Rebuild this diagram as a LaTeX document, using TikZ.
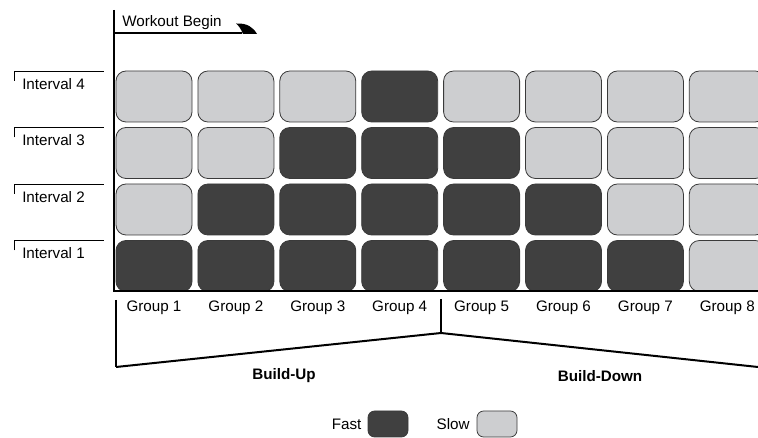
\documentclass[tikz,border=0pt]{standalone}
\usepackage{fontspec}
\setmainfont{Liberation Sans}
\usetikzlibrary{positioning,calc}
\definecolor{fastgray}{HTML}{404040}
\definecolor{slowgray}{HTML}{CDCED0}
\definecolor{edgegray}{HTML}{3A3A3A}

\begin{document}
\begin{tikzpicture}[x=0.75pt,y=-0.75pt,
   every node/.style={font=\fontsize{11.4}{13}\selectfont, inner sep=0pt},
   cell/.style={draw=edgegray, line width=0.6pt, rounded corners=7.5pt,
     minimum width=57pt, minimum height=38.25pt},
   fastcell/.style={cell, fill=fastgray},
   slowcell/.style={cell, fill=slowgray},
   keycell/.style={minimum width=30pt, minimum height=19.5pt, rounded corners=5pt},
   axis/.style={line width=1.8pt},
   slant/.style={line width=1.5pt},
   tick/.style={line width=0.7pt}]
  \clip (0,0) rectangle (758,438);
  % cells: fast when the group is close enough to group 4
  \foreach \i in {1,...,4}
    \foreach \g in {1,...,8} {
      \pgfmathtruncatemacro{\dist}{abs(\g-4)}
      \pgfmathsetmacro{\cx}{154+(\g-1)*81.9}
      \pgfmathsetmacro{\cy}{266-(\i-1)*56.5}
      \ifnum\dist>\numexpr4-\i\relax
        \node[slowcell] (c\g\i) at (\cx,\cy) {};
      \else
        \node[fastcell] (c\g\i) at (\cx,\cy) {};
      \fi
    }
  % interval labels
  \foreach \i in {1,...,4} {
    \pgfmathsetmacro{\ty}{240.5-(\i-1)*56.5}
    \coordinate (it\i) at (14,\ty);
    \draw[tick] (it\i) ++(0,10) -- (it\i) -- ++(90,0);
    \node[anchor=west] (int\i) at (22,{\ty+13}) {Interval \i};
  }
  % axes
  \coordinate (top) at (114,10);
  \coordinate (origin) at (114,291);
  \coordinate (baseend) at (758,291);
  \draw[axis] (top) -- (origin) -- (baseend);
  % workout begin
  \coordinate (start) at (114,33);
  \coordinate (flag) at (242,33);
  \draw[slant] (start) -- (flag);
  \node[anchor=base west] (wb) at (122,27) {Workout Begin};
  \fill (236,23.5) .. controls (247,23) and (253,27) .. (257,34)
    -- (243,34) .. controls (241,29) and (239,26) .. (236,23.5) -- cycle;
  % groups
  \foreach \g in {1,...,8}
    \node (grp\g) at ({154+(\g-1)*81.9},308) {Group \g};
  % build-up / build-down
  \coordinate (bu0) at (116,300);
  \coordinate (bu1) at (116,367);
  \coordinate (apex) at (441,333);
  \coordinate (apextop) at (441,299);
  \coordinate (bd1) at (758,367);
  \draw[tick, line width=1pt] (bu0) -- (bu1);
  \draw[tick, line width=1pt] (apextop) -- (apex);
  \draw[slant] (bu1) -- (apex) -- (bd1);
  \node[font=\fontsize{11.4}{13}\selectfont\bfseries] (bup) at (284,376) {Build-Up};
  \node[font=\fontsize{11.4}{13}\selectfont\bfseries] (bdn) at (600,376) {Build-Down};
  % legend
  \node[fastcell, keycell] (fastkey) at (388,424) {};
  \node[left=4.5pt of fastkey] (fastlbl) {Fast};
  \node[slowcell, keycell] (slowkey) at (497,424) {};
  \node[left=5pt of slowkey] (slowlbl) {Slow};
\end{tikzpicture}
\end{document}
